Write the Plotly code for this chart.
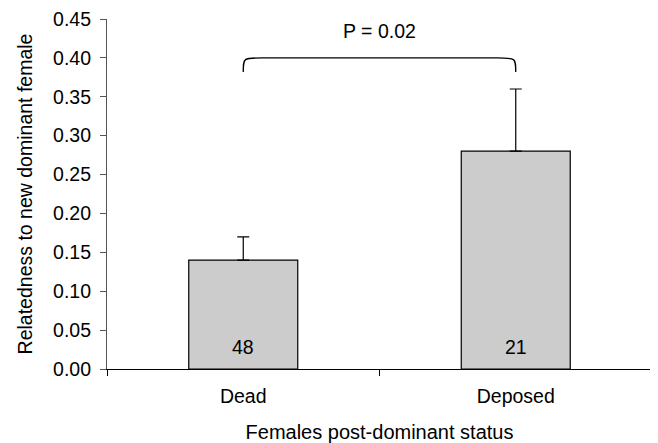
import plotly.graph_objects as go

categories = ["Dead", "Deposed"]
means = [0.14, 0.28]
err_plus = [0.03, 0.08]
sample_sizes = ["48", "21"]
y_ticks = [0.0, 0.05, 0.10, 0.15, 0.20, 0.25, 0.30, 0.35, 0.40, 0.45]
p_label = "P = 0.02"
brace_top = 0.40
brace_end = 0.382
p_text_y = 0.418
n_label_y = 0.012

FONT = "Liberation Sans, Arial, Helvetica, sans-serif"
FS = 19.5

fig = go.Figure()
fig.add_trace(go.Bar(
    x=categories, y=means, width=0.4,
    marker=dict(color="#cccccc", line=dict(color="black", width=1.2)),
    error_y=dict(type="data", array=err_plus, arrayminus=[0, 0], symmetric=False,
                 color="black", thickness=1.2, width=6),
    showlegend=False, hoverinfo="skip",
))

for c, n in zip(categories, sample_sizes):
    fig.add_annotation(x=c, y=n_label_y, text=n, showarrow=False, yanchor="bottom",
                       font=dict(family=FONT, size=FS, color="black"))

# brace between the two bars (category index coordinates)
x0, x1 = 0, len(categories) - 1
r = 0.07
path = (f"M {x0},{brace_end} C {x0},{brace_top} {x0},{brace_top} {x0 + r},{brace_top} "
        f"L {x1 - r},{brace_top} C {x1},{brace_top} {x1},{brace_top} {x1},{brace_end}")
fig.add_shape(type="path", path=path, xref="x", yref="y", line=dict(color="black", width=1.3))
fig.add_annotation(x=(x0 + x1) / 2, y=p_text_y, xref="x", yref="y", text=p_label,
                   showarrow=False, yanchor="bottom",
                   font=dict(family=FONT, size=FS, color="black"))

fig.update_layout(
    width=650, height=435,
    margin=dict(l=99, r=6, t=11, b=74),
    paper_bgcolor="white", plot_bgcolor="white",
    font=dict(family=FONT, size=FS, color="black"),
    bargap=0.6,
)
fig.update_xaxes(
    type="category", showline=True, linecolor="black", linewidth=1.2,
    ticks="outside", tickson="boundaries", ticklen=6, tickcolor="black",
    showgrid=False, zeroline=False, automargin=False,
    ticklabelstandoff=9,
    title=dict(text="Females post-dominant status", standoff=20, font=dict(size=20)),
    tickfont=dict(size=FS),
)
fig.update_yaxes(
    range=[0, 0.45], tickvals=y_ticks, tickformat=".2f",
    showline=True, linecolor="#555555", linewidth=1.2,
    ticks="outside", ticklen=6, tickcolor="#555555",
    showgrid=False, zeroline=False, automargin=False,
    ticklabeloverflow="allow", ticklabelstandoff=5,
    title=dict(text="Relatedness to new dominant female", standoff=15, font=dict(size=FS)),
    tickfont=dict(size=FS),
)

fig.write_html("out.html")
